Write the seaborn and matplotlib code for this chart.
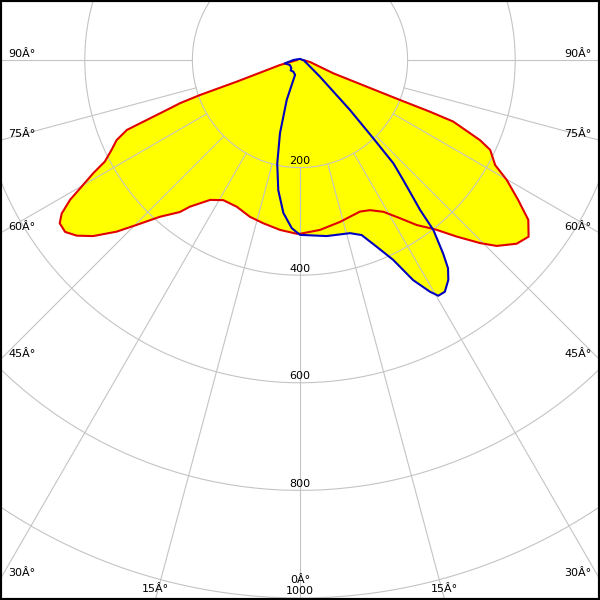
import numpy as np
import pandas as pd
import matplotlib
matplotlib.use("Agg")
import matplotlib.pyplot as plt
import seaborn as sns

# =========================================
# DATA (angle in degrees from nadir, intensity)
# =========================================

# red curve - transverse plane
red_angles = [-90, -76, -71.1, -70.7, -70.2, -69.6, -68.0, -66.4, -64.5, -62.5,
              -61.3, -59.9, -58.7, -57.2, -55.8, -53.8, -51.8, -49.6, -46.9,
              -44.7, -41.8, -38.3, -36.9, -32.7, -28.7, -23.3, -17.7, -12.7,
              -6.7, -1.1, 0, 6.7, 13.9, 21.6, 25.0, 28.8, 32.3, 35.3, 37.7,
              38.8, 41.6, 44.5, 46.6, 49.7, 52.3, 55.0, 57.3, 59.9, 61.7, 64.7,
              66.0, 68.1, 68.3, 68.2, 68.2, 68.2, 78.7, 90]
red_values = [5, 38, 124, 197, 237, 258, 347, 372, 388, 409,
              438, 469, 500, 527, 540, 541, 528, 505, 467,
              431, 391, 360, 341, 309, 297, 297, 306, 311,
              318, 323, 323, 318, 310, 303, 308, 322, 348, 376, 395,
              405, 439, 477, 503, 528, 537, 518, 482, 444, 412, 391,
              366, 307, 260, 200, 134, 67, 19, 5]

# blue curve - longitudinal plane
blue_angles = [-180, -90, -77.6, -63.4, -47, -42, -29.8, -18.4, -18.4, -15.3,
               -12.4, -9.5, -6.2, -2.8, 0, 8.6, 16.1, 19.4, 22.3, 25.0, 27.2,
               29.3, 30.4, 32.0, 34.0, 35.4, 36.5, 38.1, 38.7, 40.7, 42.1,
               43.1, 45.0, 50.1, 63.8, 71, 82, 90, 180]
blue_values = [2, 12, 29, 21, 22, 26, 25, 29, 78, 141,
               197, 245, 286, 313, 325, 331, 335, 345, 375, 410, 460,
               494, 508, 508, 493, 475, 447, 402, 357, 294, 259,
               199, 131, 48, 14, 10, 9, 5, 2]

ring_values = [200, 400, 600, 800, 1000]
ring_labels = ["200", "400", "600", "800", "1000"]

spoke_angles = [-90, -75, -60, -45, -30, -15, 0, 15, 30, 45, 60, 75, 90]
spoke_labels = ["90Â°", "75Â°", "60Â°", "45Â°", "30Â°", "15Â°", "0Â°",
                "15Â°", "30Â°", "45Â°", "60Â°", "75Â°", "90Â°"]


def to_xy(angles, values):
    a = np.radians(np.array(angles, dtype=float))
    v = np.array(values, dtype=float)
    return v * np.sin(a), -v * np.cos(a)


sns.set_style("white")

fig = plt.figure(figsize=(6, 6), dpi=100)
ax = fig.add_axes([0, 0, 1, 1])

# pixel scale: 0.538 px per unit, centre 60 px below top
xlim = (-557.6, 557.6)
ylim = (-1003.7, 111.5)
ax.set_xlim(xlim)
ax.set_ylim(ylim)

grid_color = "#c4c4c4"
fsize = 8

# -----------------------------------------
# YELLOW FILL
# -----------------------------------------

rx, ry = to_xy(red_angles, red_values)
bx, by = to_xy(blue_angles, blue_values)

ax.fill(rx, ry, color="#ffff00", lw=0, zorder=1)
ax.fill(bx, by, color="#ffff00", lw=0, zorder=1)

# -----------------------------------------
# GRID
# -----------------------------------------

t = np.linspace(0, 2 * np.pi, 400)
for r, lab in zip(ring_values, ring_labels):
    ax.plot(r * np.sin(t), r * np.cos(t), color=grid_color, lw=0.8, zorder=2)
    ax.text(0, -r + 3, lab, ha="center", va="bottom", fontsize=fsize,
            color="black", zorder=3)

for a, lab in zip(spoke_angles, spoke_labels):
    ar = np.radians(a)
    s, c = np.sin(ar), np.cos(ar)
    ax.plot([200 * s, 1400 * s], [-200 * c, -1400 * c],
            color=grid_color, lw=0.8, zorder=2)

    if a == 0:
        ax.annotate(lab, (0, ylim[0]), xytext=(0, 11),
                    textcoords="offset points", ha="center", va="bottom",
                    fontsize=fsize, color="black", zorder=3)
    elif abs(a) == 15:
        t_edge = ylim[0] / (-c)
        px, py = t_edge * s, ylim[0]
        ax.annotate(lab, (px, py), xytext=(0, 4), textcoords="offset points",
                    ha="center", va="bottom", fontsize=fsize,
                    color="black", zorder=3)
    else:
        t_edge = xlim[1] / abs(s)
        px, py = np.sign(s) * xlim[1], -t_edge * c
        ax.annotate(lab, (px, py), xytext=(-6 * np.sign(s), 1),
                    textcoords="offset points",
                    ha="right" if s > 0 else "left", va="bottom",
                    fontsize=fsize, color="black", zorder=3)

# -----------------------------------------
# CURVES
# -----------------------------------------

red_df = pd.DataFrame({"x": rx, "y": ry})
blue_df = pd.DataFrame({"x": bx, "y": by})

sns.lineplot(data=red_df, x="x", y="y", sort=False, estimator=None,
             color="#e00000", linewidth=1.5, ax=ax, zorder=4)
sns.lineplot(data=blue_df, x="x", y="y", sort=False, estimator=None,
             color="#0000c0", linewidth=1.5, ax=ax, zorder=5)

ax.set_xlim(xlim)
ax.set_ylim(ylim)
ax.set_xlabel("")
ax.set_ylabel("")
ax.set_xticks([])
ax.set_yticks([])

for sp in ax.spines.values():
    sp.set_visible(True)
    sp.set_color("black")
    sp.set_linewidth(3)

fig.savefig("out.png", dpi=100)
